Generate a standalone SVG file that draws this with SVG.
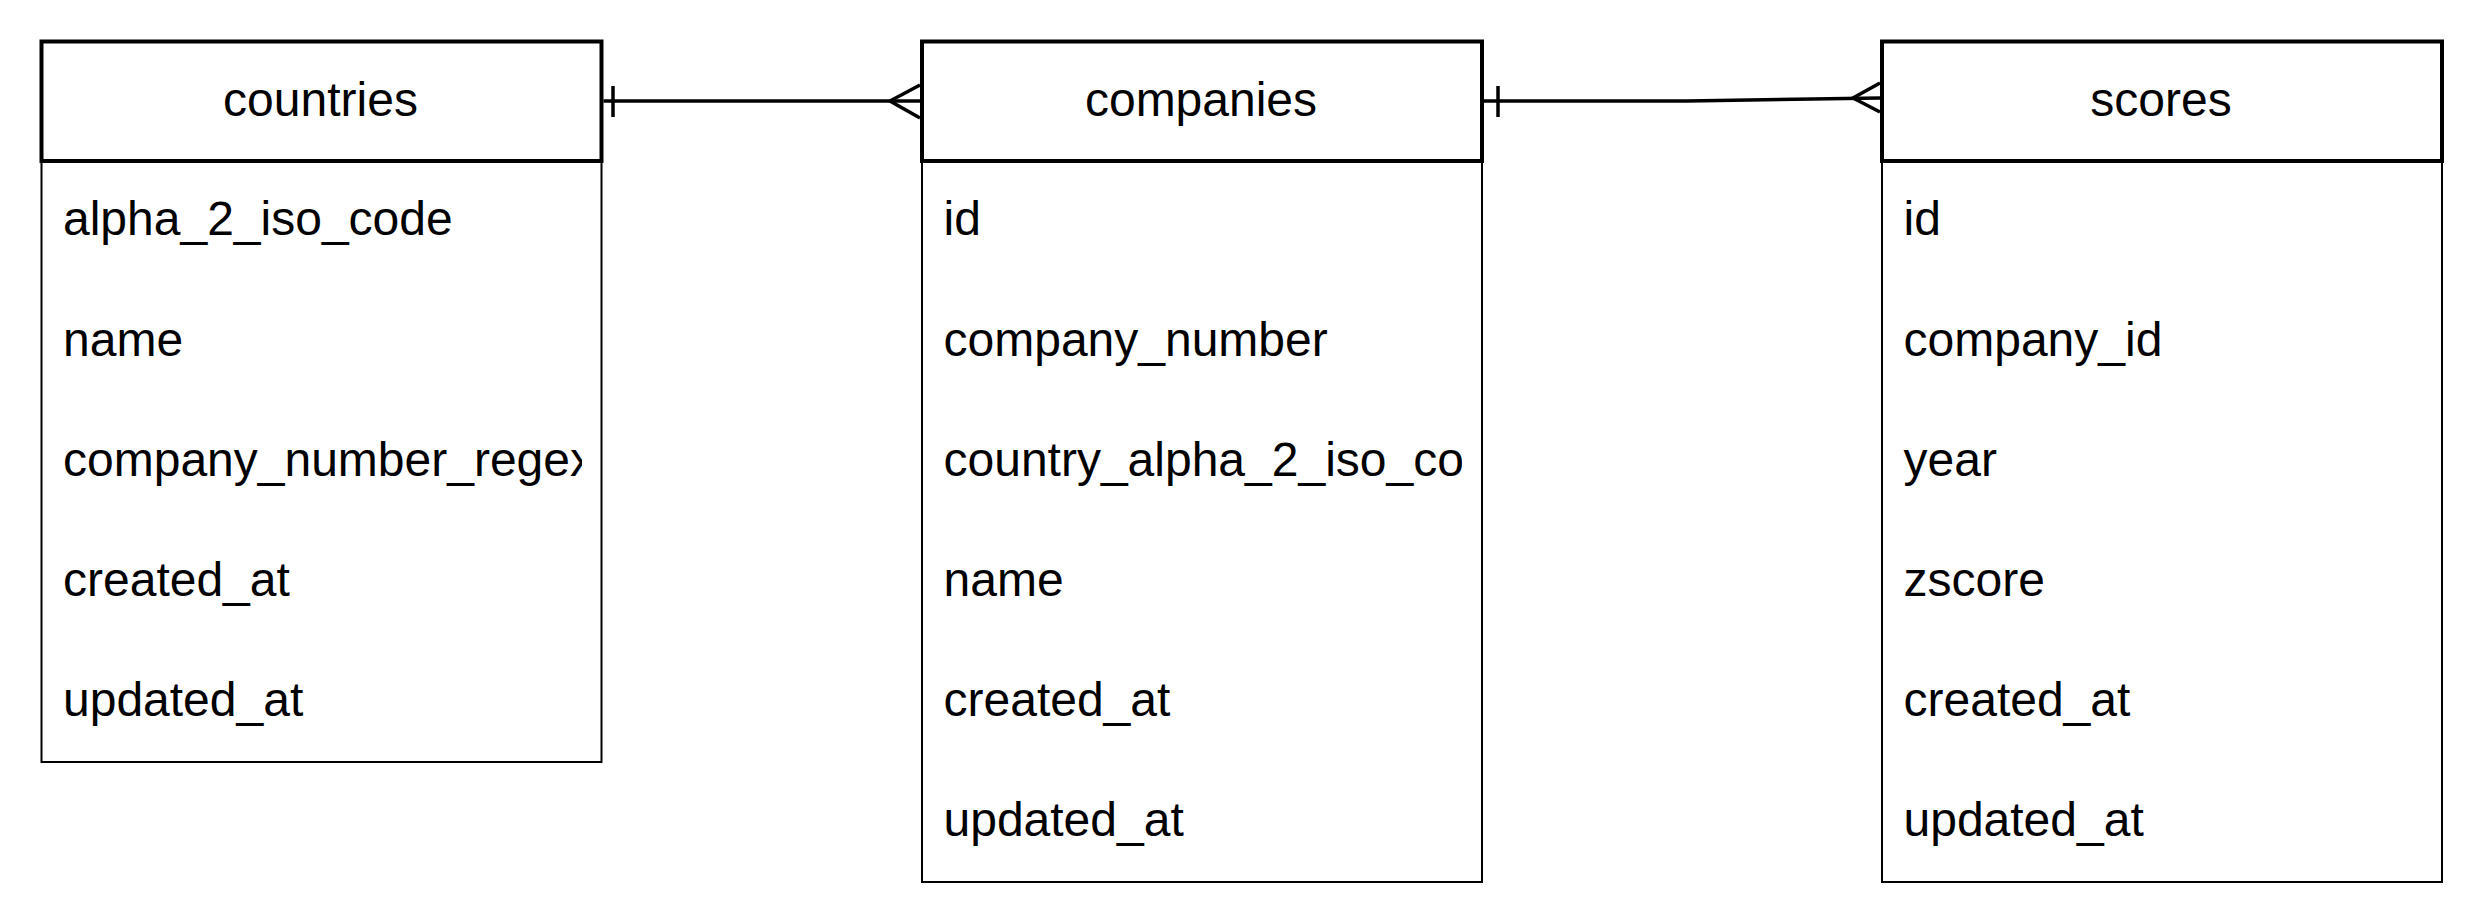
<svg xmlns="http://www.w3.org/2000/svg" width="2484" height="924" viewBox="0 0 2484 924">
<style>
.hdr{fill:#fff;stroke:#000;stroke-width:4}
.body{fill:#fff;stroke:#000;stroke-width:2}
.div{stroke:#000;stroke-width:2}
.t{font-family:"Liberation Sans",Arial,sans-serif;font-size:48px;fill:#000}
.h{font-family:"Liberation Sans",Arial,sans-serif;font-size:48px;fill:#000;text-anchor:middle}
.c{fill:none;stroke:#000;stroke-width:3.5}
</style>
<defs>
<clipPath id="clipA"><rect x="41.5" y="161" width="540.5" height="601"/></clipPath>
<clipPath id="clipB"><rect x="922" y="161" width="540" height="721"/></clipPath>
<clipPath id="clipC"><rect x="1882" y="161" width="540" height="721"/></clipPath>
</defs>
<rect width="2484" height="924" fill="#fff"/>
<g id="countries">
<rect class="body" x="41.5" y="161" width="560" height="601"/>
<rect class="hdr" x="41.5" y="41.5" width="560" height="119.5"/>
<line class="div" x1="41.5" y1="161" x2="601.5" y2="161"/>
<text class="h" x="320.5" y="115.5">countries</text>
<g clip-path="url(#clipA)">
<text class="t" x="63" y="235">alpha_2_iso_code</text>
<text class="t" x="63" y="355.5">name</text>
<text class="t" x="63" y="475.5">company_number_regex</text>
<text class="t" x="63" y="595.5">created_at</text>
<text class="t" x="63" y="716">updated_at</text>
</g>
</g>
<g id="companies">
<rect class="body" x="922" y="161" width="560" height="721"/>
<rect class="hdr" x="922" y="41.5" width="560" height="119.5"/>
<line class="div" x1="922" y1="161" x2="1482" y2="161"/>
<text class="h" x="1201" y="115.5">companies</text>
<g clip-path="url(#clipB)">
<text class="t" x="943.5" y="235">id</text>
<text class="t" x="943.5" y="355.5">company_number</text>
<text class="t" x="943.5" y="475.5">country_alpha_2_iso_code</text>
<text class="t" x="943.5" y="595.5">name</text>
<text class="t" x="943.5" y="716">created_at</text>
<text class="t" x="943.5" y="836">updated_at</text>
</g>
</g>
<g id="scores">
<rect class="body" x="1882" y="161" width="560" height="721"/>
<rect class="hdr" x="1882" y="41.5" width="560" height="119.5"/>
<line class="div" x1="1882" y1="161" x2="2442" y2="161"/>
<text class="h" x="2161" y="115.5">scores</text>
<g clip-path="url(#clipC)">
<text class="t" x="1903.5" y="235">id</text>
<text class="t" x="1903.5" y="355.5">company_id</text>
<text class="t" x="1903.5" y="475.5">year</text>
<text class="t" x="1903.5" y="595.5">zscore</text>
<text class="t" x="1903.5" y="716">created_at</text>
<text class="t" x="1903.5" y="836">updated_at</text>
</g>
</g>
<g id="connectors">
<path class="c" d="M603.5 101 H920"/>
<path class="c" d="M613 86 V117"/>
<path class="c" d="M920 85 L890 101 L920 118"/>
<path class="c" d="M1484 101 H1687 L1880 98"/>
<path class="c" d="M1498 86 V117"/>
<path class="c" d="M1880 83 L1853 98 L1880 112"/>
</g>
</svg>
